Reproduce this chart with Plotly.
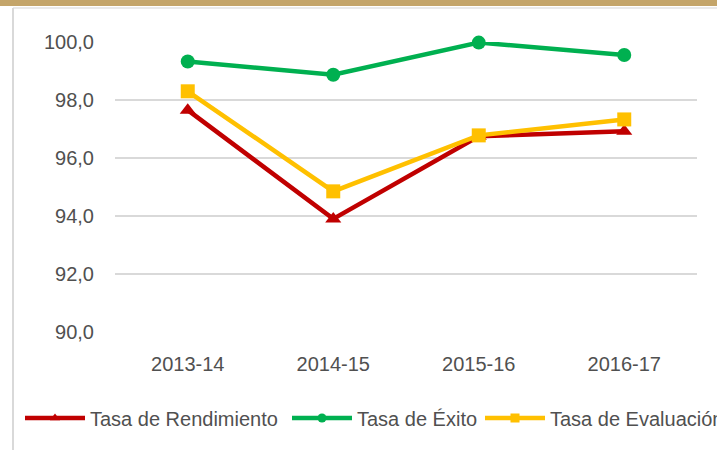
import plotly.graph_objects as go

categories = ["2013-14", "2014-15", "2015-16", "2016-17"]
rendimiento = [97.65, 93.9, 96.75, 96.92]
exito = [99.33, 98.87, 99.98, 99.55]
evaluacion = [98.3, 94.85, 96.78, 97.33]
y_ticks = [90, 92, 94, 96, 98, 100]
y_tick_labels = ["90,0", "92,0", "94,0", "96,0", "98,0", "100,0"]

FONT = "Liberation Sans"
GRAY = "#505050"
FS = 20

fig = go.Figure()
series = [
    ("Tasa de Rendimiento", rendimiento, "#C00000", "triangle-up", "legend"),
    ("Tasa de Éxito", exito, "#00B050", "circle", "legend2"),
    ("Tasa de Evaluación", evaluacion, "#FFC000", "square", "legend3"),
]
for name, vals, col, sym, lg in series:
    fig.add_trace(go.Scatter(
        x=categories, y=vals, name=name, mode="lines+markers",
        line=dict(color=col, width=4.5),
        marker=dict(color=col, symbol=sym, size=14),
        cliponaxis=False, showlegend=False,
    ))
    # legend entry with smaller marker, as in the reference legend
    fig.add_trace(go.Scatter(
        x=[None], y=[None], name=name, mode="lines+markers",
        line=dict(color=col, width=4.5),
        marker=dict(color=col, symbol=sym, size=9),
        legend=lg, showlegend=True,
    ))

W, H = 717, 450
L, R, T, B = 115, 20, 42, 118
pw = W - L - R
ph = H - T - B

def px_x(p):
    return (p - L) / pw

def px_y(p):
    return (H - B - p) / ph

legend_common = dict(
    orientation="h", yanchor="middle", xanchor="left",
    font=dict(family=FONT, size=FS, color=GRAY),
    bgcolor="rgba(0,0,0,0)", itemwidth=60,
)

fig.update_layout(
    width=W, height=H,
    margin=dict(l=L, r=R, t=T, b=B, autoexpand=False),
    paper_bgcolor="white", plot_bgcolor="white",
    font=dict(family=FONT, size=FS, color=GRAY),
    xaxis=dict(
        type="category", range=[-0.5, 3.5],
        showgrid=False, showline=False, zeroline=False,
        tickfont=dict(family=FONT, size=FS, color=GRAY),
        ticks="", ticklabelstandoff=18,
    ),
    yaxis=dict(
        range=[90, 100], tickvals=y_ticks, ticktext=y_tick_labels,
        showgrid=True, gridcolor="#D9D9D9", gridwidth=1.5,
        zeroline=False, showline=False, ticks="",
        tickfont=dict(family=FONT, size=FS, color=GRAY),
        ticklabelstandoff=20,
    ),
    legend=dict(x=px_x(20), y=px_y(418), **legend_common),
    legend2=dict(x=px_x(287), y=px_y(418), **legend_common),
    legend3=dict(x=px_x(480), y=px_y(418), **legend_common),
    showlegend=True,
    shapes=[
        dict(type="rect", xref="paper", yref="paper",
             x0=px_x(0), x1=px_x(W), y0=px_y(6), y1=px_y(0),
             fillcolor="#C4A56A", line=dict(width=0), layer="above"),
        dict(type="line", xref="paper", yref="paper",
             x0=px_x(13), x1=px_x(W), y0=px_y(8), y1=px_y(8),
             line=dict(color="#E3E3E3", width=1.5)),
        dict(type="line", xref="paper", yref="paper",
             x0=px_x(13), x1=px_x(13), y0=px_y(8), y1=px_y(H),
             line=dict(color="#D9D9D9", width=2)),
    ],
)

fig.write_html("out.html")
